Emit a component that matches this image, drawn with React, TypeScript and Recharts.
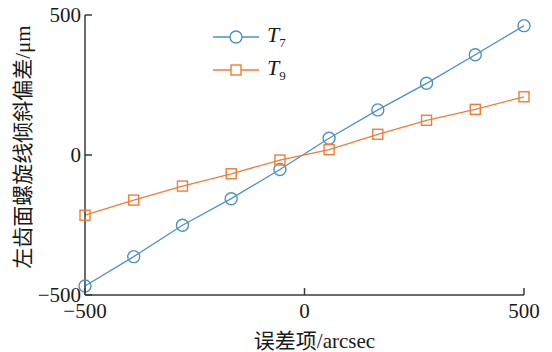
import { LineChart, Line, XAxis, YAxis, Label } from 'recharts';

const xValues = [-500, -389, -278, -167, -56, 56, 167, 278, 389, 500];
const t7Values = [-468, -363, -251, -156, -52, 60, 161, 256, 358, 462];
const t9Values = [-215, -161, -111, -67, -18, 19, 74, 124, 163, 208];
const axisTicks = [-500, 0, 500];

const BLUE = '#4f91c3';
const ORANGE = '#f47b36';
const AXIS = '#3a3a3a';
const TEXT = '#1a1a1a';
const SERIF = '"Liberation Serif", "Times New Roman", serif';
const MIXED = '"Liberation Serif", "Noto Sans CJK SC", serif';

const data = xValues.map((x, i) => ({ x, t7: t7Values[i], t9: t9Values[i] }));

const fmt = (v: number) => (v < 0 ? `−${Math.abs(v)}` : `${v}`);

function YTick({ x, y, payload }: { x: number; y: number; payload: { value: number } }) {
  return (
    <g>
      <line x1={x} y1={y} x2={x + 7} y2={y} stroke={AXIS} strokeWidth={1.5} />
      <text x={x - 4} y={y} dy={7} textAnchor="end" fontSize={21} fontFamily={SERIF} fill={TEXT}>
        {fmt(payload.value)}
      </text>
    </g>
  );
}

function XTick({ x, y, payload }: { x: number; y: number; payload: { value: number } }) {
  return (
    <g>
      <line x1={x} y1={y} x2={x} y2={y - 7} stroke={AXIS} strokeWidth={1.5} />
      <text x={x} y={y} dy={23} textAnchor="middle" fontSize={21} fontFamily={SERIF} fill={TEXT}>
        {fmt(payload.value)}
      </text>
    </g>
  );
}

function CircleDot({ cx, cy }: { cx?: number; cy?: number }) {
  if (cx == null || cy == null) return null;
  return <circle cx={cx} cy={cy} r={6} fill="none" stroke={BLUE} strokeWidth={1.4} />;
}

function SquareDot({ cx, cy }: { cx?: number; cy?: number }) {
  if (cx == null || cy == null) return null;
  return <rect x={cx - 5} y={cy - 5} width={10} height={10} fill="none" stroke={ORANGE} strokeWidth={1.4} />;
}

const legendItems = [
  { color: BLUE, sub: '7', shape: 'circle' },
  { color: ORANGE, sub: '9', shape: 'square' },
];

export default function App() {
  return (
    <div style={{ position: 'absolute', left: 0, top: 0, width: 552, height: 352, background: '#fff' }}>
      <LineChart width={552} height={352} data={data} margin={{ top: 15, right: 28, bottom: 0, left: 0 }}>
        <XAxis
          dataKey="x"
          type="number"
          domain={[-500, 500]}
          ticks={axisTicks}
          height={57}
          tickSize={0}
          tickMargin={0}
          tick={XTick}
          stroke={AXIS}
          strokeWidth={1.5}
        >
          <Label
            value="误差项/arcsec"
            position="insideBottom"
            offset={4}
            dx={10}
            style={{ fontSize: 21, fontFamily: MIXED, fill: TEXT }}
          />
        </XAxis>
        <YAxis
          type="number"
          domain={[-500, 500]}
          ticks={axisTicks}
          width={85}
          tickSize={0}
          tickMargin={0}
          tick={YTick}
          stroke={AXIS}
          strokeWidth={1.5}
        >
          <Label
            value="左齿面螺旋线倾斜偏差/μm"
            angle={-90}
            position="insideLeft"
            offset={23}
            dy={-8}
            style={{ fontSize: 21, fontFamily: MIXED, fill: TEXT, textAnchor: 'middle' }}
          />
        </YAxis>
        <Line
          dataKey="t7"
          stroke={BLUE}
          strokeWidth={1.3}
          dot={<CircleDot />}
          activeDot={false}
          isAnimationActive={false}
        />
        <Line
          dataKey="t9"
          stroke={ORANGE}
          strokeWidth={1.3}
          dot={<SquareDot />}
          activeDot={false}
          isAnimationActive={false}
        />
      </LineChart>
      <div style={{ position: 'absolute', left: 212, top: 20 }}>
        {legendItems.map((item) => (
          <div key={item.sub} style={{ display: 'flex', alignItems: 'center', height: 33 }}>
            <svg width={48} height={16}>
              <line x1={1} y1={8} x2={47} y2={8} stroke={item.color} strokeWidth={1.3} />
              {item.shape === 'circle' ? (
                <circle cx={24} cy={8} r={6} fill="#fff" stroke={item.color} strokeWidth={1.4} />
              ) : (
                <rect x={19} y={3} width={10} height={10} fill="#fff" stroke={item.color} strokeWidth={1.4} />
              )}
            </svg>
            <span style={{ marginLeft: 7, fontFamily: SERIF, fontSize: 22, color: TEXT, lineHeight: 1 }}>
              <i>T</i>
              <sub style={{ fontSize: 13 }}>{item.sub}</sub>
            </span>
          </div>
        ))}
      </div>
    </div>
  );
}
